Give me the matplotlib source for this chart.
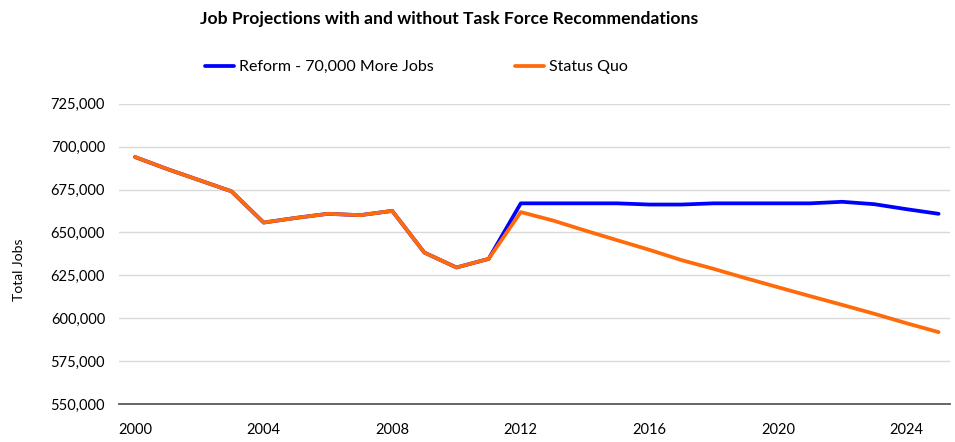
import matplotlib.pyplot as plt
from matplotlib.ticker import FuncFormatter

# Data
years = list(range(2000, 2026))
reform = [694000, 687000, 680500, 674000, 655800, 658500, 660900, 660100, 662600,
          638300, 629600, 634600, 667000, 667000, 667000, 667000, 666300, 666300,
          667000, 667000, 667000, 667000, 667900, 666500, 663600, 660900]
status_quo = [694000, 687000, 680500, 674000, 655800, 658500, 660900, 660100, 662600,
              638300, 629600, 634600, 661900, 657000, 651150, 645500, 639900, 633900,
              628800, 623350, 618100, 612900, 607800, 602600, 597100, 591900]
y_ticks = [550000, 575000, 600000, 625000, 650000, 675000, 700000, 725000]
x_ticks = [2000, 2004, 2008, 2012, 2016, 2020, 2024]

plt.rcParams['font.family'] = ['Lato', 'DejaVu Sans']

fig = plt.figure(figsize=(9.55, 4.42), dpi=100)
ax = fig.add_axes([0.1246, 0.086, 0.870, 0.679])

ax.plot(years, reform, color='#0000FF', lw=2.7, label='Reform - 70,000 More Jobs',
        solid_capstyle='round', zorder=3)
ax.plot(years, status_quo, color='#FF6A0A', lw=2.7, label='Status Quo',
        solid_capstyle='round', zorder=4)

ax.set_xlim(1999.5, 2025.35)
ax.set_ylim(550000, 725000)
ax.set_xticks(x_ticks)
ax.set_yticks(y_ticks)
ax.yaxis.set_major_formatter(FuncFormatter(lambda v, p: f'{int(v):,}'))
ax.tick_params(axis='both', length=0, labelsize=10.5, colors='black')
ax.tick_params(axis='x', pad=14)
ax.tick_params(axis='y', pad=10)

ax.grid(axis='y', color='#D9D9D9', lw=1)
ax.set_axisbelow(True)
for side in ['top', 'right', 'left']:
    ax.spines[side].set_visible(False)
ax.spines['bottom'].set_color('#595959')
ax.spines['bottom'].set_linewidth(1.3)

fig.text(0.0195, 0.39, 'Total Jobs', rotation=90, fontsize=10, va='center', ha='center')
fig.text(0.470, 0.958, 'Job Projections with and without Task Force Recommendations',
         fontsize=12.6, fontweight='bold', ha='center', va='center')

fig.legend(loc='center', bbox_to_anchor=(0.436, 0.848), ncol=2, frameon=False,
           fontsize=11.5, handlelength=1.8, handletextpad=0.3, columnspacing=5.1)

fig.savefig('out.png', dpi=100)
